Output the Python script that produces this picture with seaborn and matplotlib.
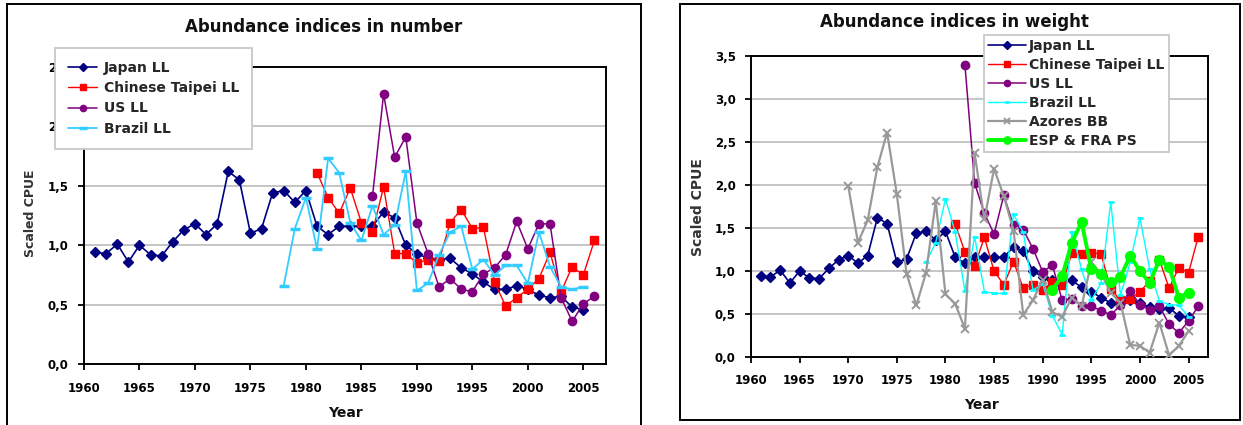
import numpy as np
import matplotlib
matplotlib.use("Agg")
import matplotlib.pyplot as plt
import seaborn as sns
from matplotlib.patches import Rectangle
from matplotlib.ticker import FuncFormatter

# ---------------- data ----------------
years_jp = list(range(1961, 2006))
japan_ll = [0.94, 0.93, 1.01, 0.86, 1.00, 0.92, 0.91, 1.03, 1.13, 1.18,
            1.09, 1.18, 1.62, 1.55, 1.10, 1.14, 1.44, 1.46, 1.36, 1.46,
            1.16, 1.09, 1.16, 1.16, 1.16, 1.16, 1.28, 1.23, 1.00, 0.93,
            0.89, 0.88, 0.89, 0.81, 0.76, 0.69, 0.63, 0.63, 0.66, 0.63,
            0.58, 0.56, 0.57, 0.48, 0.46]

years_ct = list(range(1981, 2007))
taipei_num = [1.61, 1.40, 1.27, 1.48, 1.19, 1.11, 1.49, 0.93, 0.93, 0.85,
              0.88, 0.87, 1.19, 1.30, 1.14, 1.15, 0.69, 0.49, 0.56, 0.63,
              0.72, 0.94, 0.61, 0.82, 0.75, 1.04]
taipei_wt = [1.55, 1.22, 1.06, 1.39, 1.00, 0.84, 1.11, 0.80, 0.84, 0.78,
             0.87, 0.84, 1.21, 1.20, 1.21, 1.20, 0.79, 0.66, 0.68, 0.76,
             0.88, 1.13, 0.80, 1.04, 0.98, 1.40]

years_us_num = list(range(1986, 2007))
us_num = [1.41, 2.27, 1.74, 1.91, 1.19, 0.93, 0.65, 0.72, 0.63, 0.61,
          0.76, 0.81, 0.92, 1.20, 0.97, 1.18, 1.18, 0.56, 0.36, 0.51, 0.57]
years_us_wt = list(range(1982, 2007))
us_wt = [3.40, 2.02, 1.67, 1.43, 1.88, 1.53, 1.48, 1.26, 0.99, 1.07,
         0.66, 0.68, 0.59, 0.59, 0.54, 0.49, 0.60, 0.77, 0.61, 0.55,
         0.59, 0.38, 0.28, 0.42, 0.59]

years_br = list(range(1978, 2006))
brazil_num = [0.66, 1.14, 1.40, 0.97, 1.73, 1.61, 1.19, 1.04, 1.33, 1.09,
              1.17, 1.62, 0.62, 0.68, 0.92, 1.11, 1.16, 0.80, 0.88, 0.75,
              0.83, 0.83, 0.68, 1.11, 0.82, 0.65, 0.63, 0.65]
brazil_wt = [1.10, 1.33, 1.84, 1.45, 0.77, 1.40, 0.76, 0.74, 0.74, 1.66,
             1.45, 0.78, 0.85, 0.48, 0.26, 1.45, 1.02, 0.66, 0.86, 1.80,
             0.72, 1.10, 1.62, 1.02, 0.65, 0.61, 0.60, 0.47]

years_az = list(range(1970, 2006))
azores_wt = [1.99, 1.33, 1.59, 2.21, 2.61, 1.89, 0.97, 0.60, 0.98, 1.81,
             0.73, 0.62, 0.33, 2.37, 1.60, 2.19, 1.87, 1.47, 0.49, 0.66,
             0.90, 0.52, 0.47, 0.69, 0.59, 1.10, 0.97, 0.75, 0.63, 0.14,
             0.13, 0.05, 0.40, 0.02, 0.13, 0.30]

years_esp = list(range(1991, 2006))
esp_fra_wt = [0.78, 0.94, 1.33, 1.57, 1.02, 0.97, 0.87, 0.93, 1.18, 1.00,
              0.86, 1.13, 1.05, 0.69, 0.75]

x_ticks = list(range(1960, 2006, 5))

# ---------------- figure ----------------
sns.set_style("white")
plt.rcParams["font.family"] = ["DejaVu Sans"]
plt.rcParams["font.weight"] = "bold"

W, H = 1243, 425
fig = plt.figure(figsize=(W / 100, H / 100), dpi=100)


def px_axes(x0, y0, x1, y1):
    return fig.add_axes([x0 / W, 1 - y1 / H, (x1 - x0) / W, (y1 - y0) / H])


axL = px_axes(84, 66.7, 605.5, 364.3)
axR = px_axes(751, 56, 1208, 357)


def draw(ax, years, vals, label, color, marker, ms, lw, mew=1.0, z=3):
    sns.lineplot(x=years, y=vals, ax=ax, color=color, marker=marker,
                 markersize=ms, linewidth=lw, markeredgewidth=mew,
                 markeredgecolor=color, markerfacecolor=color,
                 label=label, zorder=z)


NAVY, RED, PURPLE = "#000080", "#ff0000", "#800080"

# left panel
draw(axL, years_jp, japan_ll, "Japan LL", NAVY, "D", 5, 1.2)
draw(axL, years_ct, taipei_num, "Chinese Taipei LL", RED, "s", 5.5, 1.0)
draw(axL, years_us_num, us_num, "US LL", PURPLE, "o", 6, 1.1)
draw(axL, years_br, brazil_num, "Brazil LL", "#33ccff", "_", 7, 1.3, mew=2.5)

# right panel
draw(axR, years_jp, japan_ll, "Japan LL", NAVY, "D", 5, 1.2)
draw(axR, years_ct, taipei_wt, "Chinese Taipei LL", RED, "s", 6, 1.0)
draw(axR, years_us_wt, us_wt, "US LL", PURPLE, "o", 6, 1.1)
draw(axR, years_br, brazil_wt, "Brazil LL", "#00ffff", "_", 4.5, 1.0, mew=2)
draw(axR, years_az, azores_wt, "Azores BB", "#999999", "x", 6, 1.6, mew=1.4)
draw(axR, years_esp, esp_fra_wt, "ESP & FRA PS", "#00ff00", "o", 7, 2.8)

fmt = FuncFormatter(lambda v, p: f"{v:.1f}".replace(".", ","))
for ax, ymax in ((axL, 2.5), (axR, 3.5)):
    ax.set_xlim(1960, 2007)
    ax.set_ylim(0, ymax)
    ax.set_xticks(x_ticks)
    ax.set_yticks(np.arange(0, ymax + 0.01, 0.5))
    ax.yaxis.set_major_formatter(fmt)
    ax.grid(axis="y", color="#c0c0c0", lw=1.3)
    ax.grid(axis="x", visible=False)
    ax.set_axisbelow(True)
    for s in ax.spines.values():
        s.set_visible(True)
        s.set_color("black")
        s.set_linewidth(1.4)
    ax.tick_params(axis="both", which="major", direction="out", length=4.5,
                   width=1.3, labelsize=8.5, colors="black",
                   bottom=True, left=True)
    ax.tick_params(axis="x", pad=8)
    ax.tick_params(axis="y", pad=6.5)
    for lab in ax.get_xticklabels() + ax.get_yticklabels():
        lab.set_fontweight("bold")
    ax.set_xlabel("")
    ax.set_ylabel("")

# legends
legL = axL.legend(loc="upper left", bbox_to_anchor=(55 / W, 1 - 47.7 / H),
                  bbox_transform=fig.transFigure, borderaxespad=0,
                  prop={"weight": "bold", "size": 10}, frameon=True,
                  fancybox=False, framealpha=1, edgecolor="#c8c8c8",
                  borderpad=0.95, labelspacing=0.45, handlelength=2.1,
                  handletextpad=0.45, markerscale=0.75)
legL.get_frame().set_linewidth(1.3)
legL.set_zorder(10)

legR = axR.legend(loc="upper left", bbox_to_anchor=(984 / W, 1 - 35 / H),
                  bbox_transform=fig.transFigure, borderaxespad=0,
                  prop={"weight": "bold", "size": 10}, frameon=True,
                  fancybox=False, framealpha=1, edgecolor="#c8c8c8",
                  borderpad=0.3, labelspacing=0.36, handlelength=2.7,
                  handletextpad=0.25, markerscale=0.75)
legR.get_frame().set_linewidth(1.3)
legR.set_zorder(10)

# titles and axis labels
fig.text(324 / W, 1 - 27 / H, "Abundance indices in number", ha="center",
         va="center", fontsize=12, fontweight="bold", color="#111111")
fig.text(954 / W, 1 - 22 / H, "Abundance indices in weight", ha="center",
         va="center", fontsize=12, fontweight="bold", color="#111111")
fig.text(30 / W, 1 - 213 / H, "Scaled CPUE", rotation=90, ha="center",
         va="center", fontsize=9, fontweight="bold", color="#333333")
fig.text(697.5 / W, 1 - 207 / H, "Scaled CPUE", rotation=90, ha="center",
         va="center", fontsize=10, fontweight="bold", color="#333333")
fig.text(345 / W, 1 - 413 / H, "Year", ha="center", va="center",
         fontsize=10, fontweight="bold", color="#111111")
fig.text(981 / W, 1 - 405 / H, "Year", ha="center", va="center",
         fontsize=10, fontweight="bold", color="#111111")

# chart-area frames
fig.add_artist(Rectangle((7 / W, 1 - 432 / H), (641 - 7) / W, (432 - 4) / H,
                         transform=fig.transFigure, fill=False,
                         lw=1.4, ec="black"))
fig.add_artist(Rectangle((680 / W, 1 - 420 / H), (1240 - 680) / W,
                         (420 - 3.5) / H, transform=fig.transFigure,
                         fill=False, lw=1.4, ec="black"))

fig.savefig("out.png", dpi=100, facecolor="white")
